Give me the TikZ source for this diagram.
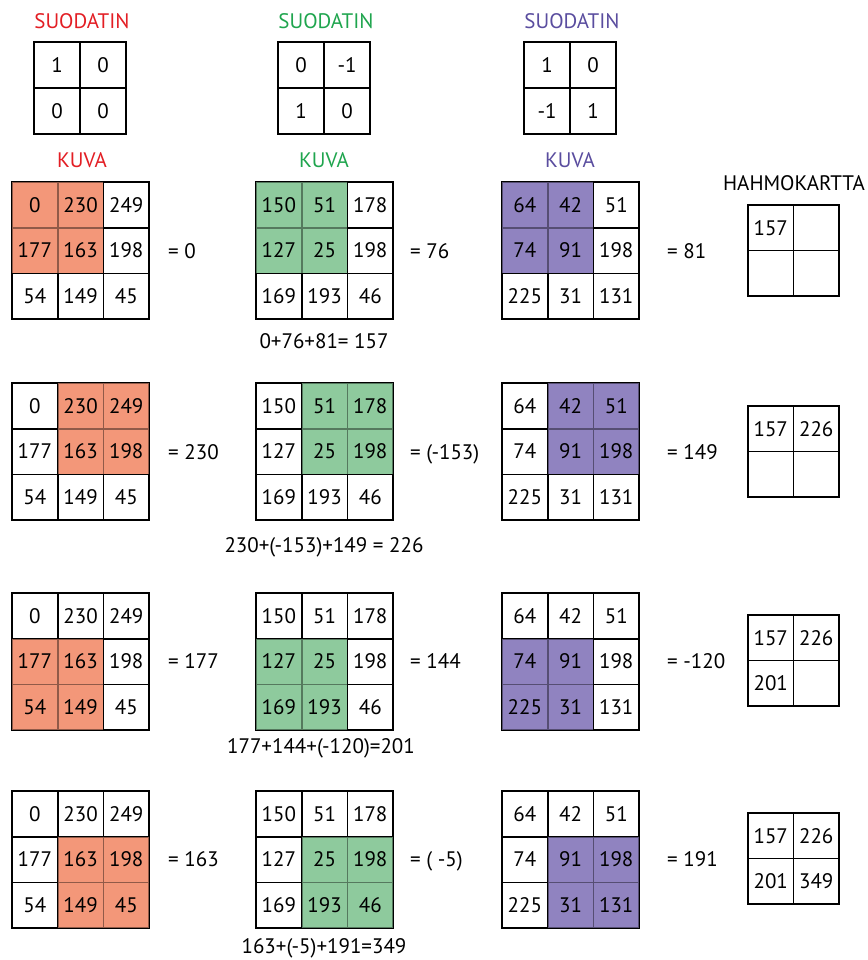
\documentclass[tikz,border=0pt]{standalone}
\usepackage{fontspec}
\setmainfont{PT Sans}
\definecolor{tred}{HTML}{E31E24}
\definecolor{tgreen}{HTML}{1FA54E}
\definecolor{tpurple}{HTML}{5A4D9F}
\definecolor{fred}{HTML}{F39779}
\definecolor{fgreen}{HTML}{8ECA9D}
\definecolor{fpurple}{HTML}{9083C0}
\tikzset{
  gl/.style={line width=1.8pt, line cap=rect},
  basetxt/.style={inner sep=0pt, font=\fontsize{21}{25}\selectfont, yshift=-7.3pt},
  cell/.style={basetxt, anchor=base},
  txt/.style={basetxt, anchor=base},
  txtw/.style={basetxt, anchor=base west},
  ttl/.style={basetxt, anchor=base},
}
% #1 name, #2 x0, #3 y0, #4 fill colour, #5 block row, #6 block col, #7 values
\newcommand\kgrid[7]{%
  \def\s{45.7}
  \begin{scope}[shift={(#2,#3)}]
    \fill[#4] (#6*\s,#5*\s) rectangle ++(2*\s,2*\s);
    \draw[gl] (0,0) rectangle (3*\s,3*\s);
    \foreach \k in {1,2}{
      \draw[gl] (\k*\s,0) -- (\k*\s,3*\s);
      \draw[gl] (0,\k*\s) -- (3*\s,\k*\s);
    }
    \fill[#4, fill opacity=0.6] (#6*\s,#5*\s) rectangle ++(2*\s,2*\s);
    \foreach \v [count=\i from 0] in {#7}{
      \pgfmathtruncatemacro\rr{int(\i/3)}
      \pgfmathtruncatemacro\cc{\i-3*\rr}
      \node[cell] (#1-\i) at ({(\cc+0.5)*\s},{(\rr+0.5)*\s}) {\v};
    }
  \end{scope}
}
% #1 name, #2 x0, #3 y0, #4 size, #5 values
\newcommand\sgrid[5]{%
  \def\s{#4}
  \begin{scope}[shift={(#2,#3)}]
    \draw[gl] (0,0) rectangle (2*\s,2*\s);
    \draw[gl] (\s,0) -- (\s,2*\s);
    \draw[gl] (0,\s) -- (2*\s,\s);
    \foreach \v [count=\i from 0] in {#5}{
      \pgfmathtruncatemacro\rr{int(\i/2)}
      \pgfmathtruncatemacro\cc{\i-2*\rr}
      \node[cell] (#1-\i) at ({(\cc+0.5)*\s},{(\rr+0.5)*\s}) {\v};
    }
  \end{scope}
}
\begin{document}
\begin{tikzpicture}[x=1pt,y=-1pt]
\useasboundingbox (0,0) rectangle (867,960);
\fill[white] (0,0) rectangle (867,960);

% titles
\node[ttl, text=tred] (t1) at (82,21) {SUODATIN};
\node[ttl, text=tgreen] (t2) at (326,21) {SUODATIN};
\node[ttl, text=tpurple] (t3) at (572,21) {SUODATIN};
\node[ttl, text=tred] (k1) at (82,160) {KUVA};
\node[ttl, text=tgreen] (k2) at (324,160) {KUVA};
\node[ttl, text=tpurple] (k3) at (570,160) {KUVA};
\node[ttl] (hk) at (794,183) {HAHMOKARTTA};

% filters
\sgrid{f1}{34}{42}{46}{1,0,0,0}
\sgrid{f2}{278}{42}{46}{0,-1,1,0}
\sgrid{f3}{524}{42}{46}{1,0,-1,1}

% row 1
\kgrid{a1}{12}{182}{fred}{0}{0}{0,230,249,177,163,198,54,149,45}
\kgrid{b1}{256}{182}{fgreen}{0}{0}{150,51,178,127,25,198,169,193,46}
\kgrid{c1}{502}{182}{fpurple}{0}{0}{64,42,51,74,91,198,225,31,131}
\node[txtw] (ea1) at (168,251) {= 0};
\node[txtw] (eb1) at (410,251) {= 76};
\node[txtw] (ec1) at (667,251) {= 81};
\node[txt] (s1) at (324,341) {0+76+81= 157};
\sgrid{h1}{748}{205}{45.5}{157,{},{},{}}

% row 2
\kgrid{a2}{12}{383}{fred}{0}{1}{0,230,249,177,163,198,54,149,45}
\kgrid{b2}{256}{383}{fgreen}{0}{1}{150,51,178,127,25,198,169,193,46}
\kgrid{c2}{502}{383}{fpurple}{0}{1}{64,42,51,74,91,198,225,31,131}
\node[txtw] (ea2) at (168,452) {= 230};
\node[txtw] (eb2) at (410,452) {= (-153)};
\node[txtw] (ec2) at (667,452) {= 149};
\node[txt] (s2) at (324,545) {230+(-153)+149 = 226};
\sgrid{h2}{748}{406}{45.5}{157,226,{},{}}

% row 3
\kgrid{a3}{12}{593}{fred}{1}{0}{0,230,249,177,163,198,54,149,45}
\kgrid{b3}{256}{593}{fgreen}{1}{0}{150,51,178,127,25,198,169,193,46}
\kgrid{c3}{502}{593}{fpurple}{1}{0}{64,42,51,74,91,198,225,31,131}
\node[txtw] (ea3) at (168,661) {= 177};
\node[txtw] (eb3) at (410,661) {= 144};
\node[txtw] (ec3) at (667,661) {= -120};
\node[txt] (s3) at (321,746) {177+144+(-120)=201};
\sgrid{h3}{748}{615}{45.5}{157,226,201,{}}

% row 4
\kgrid{a4}{12}{791}{fred}{1}{1}{0,230,249,177,163,198,54,149,45}
\kgrid{b4}{256}{791}{fgreen}{1}{1}{150,51,178,127,25,198,169,193,46}
\kgrid{c4}{502}{791}{fpurple}{1}{1}{64,42,51,74,91,198,225,31,131}
\node[txtw] (ea4) at (168,859) {= 163};
\node[txtw] (eb4) at (410,859) {= ( -5)};
\node[txtw] (ec4) at (667,859) {= 191};
\node[txt] (s4) at (324,946) {163+(-5)+191=349};
\sgrid{h4}{748}{813}{45.5}{157,226,201,349}
\end{tikzpicture}
\end{document}
